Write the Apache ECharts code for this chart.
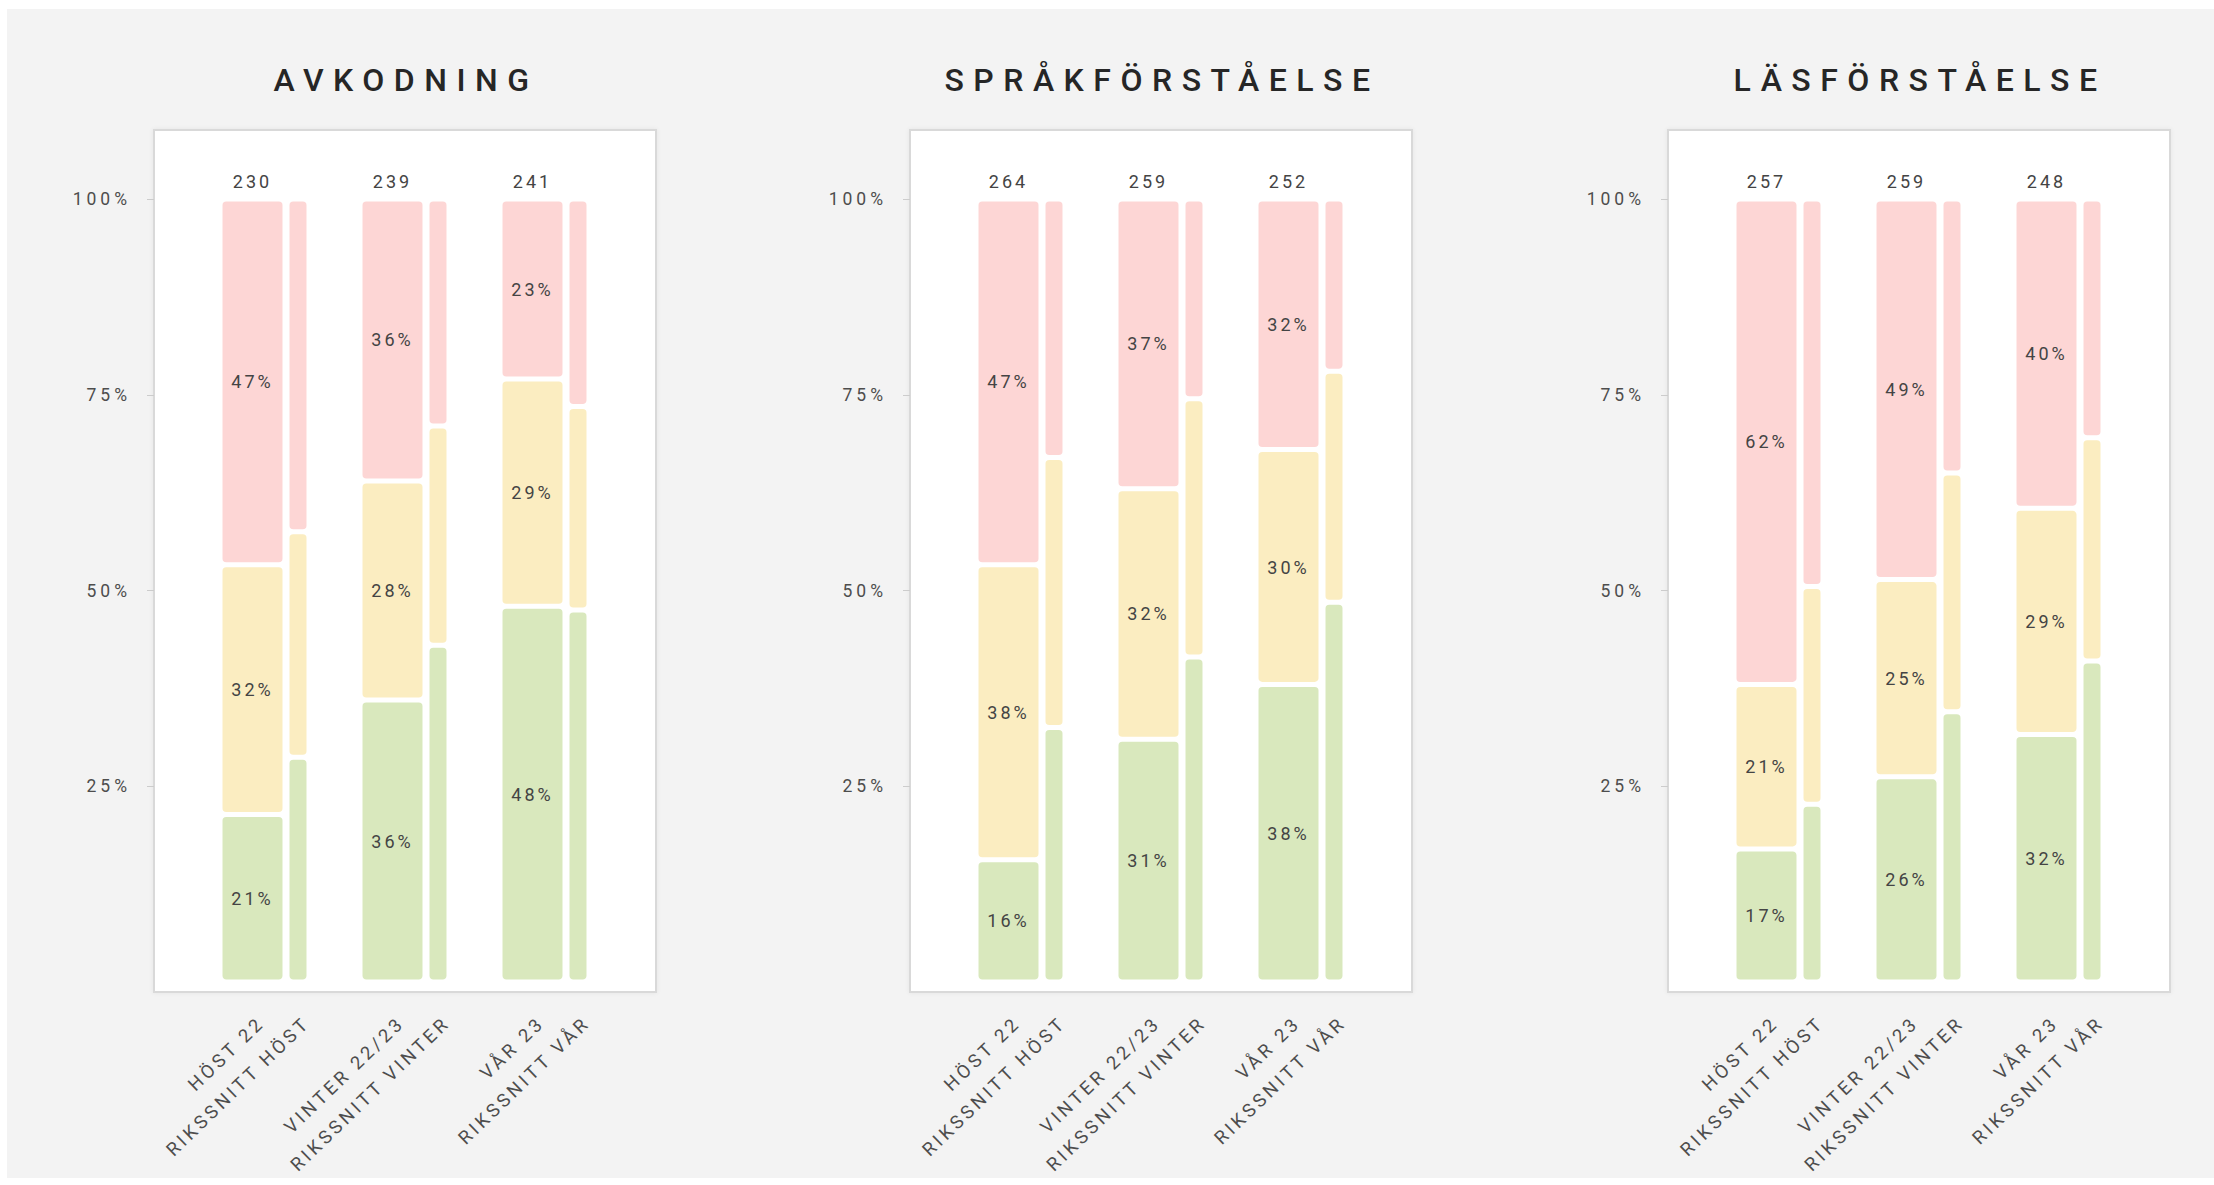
<!DOCTYPE html>
<html>
<head>
<meta charset="utf-8">
<title>Avkodning, språkförståelse, läsförståelse</title>
<script src="https://cdn.jsdelivr.net/npm/echarts@6/dist/echarts.min.js"></script>
<style>
  html, body { margin: 0; padding: 0; background: #fff; }
  #chart { width: 2214px; height: 1185px; }
  /* spärrad text som i originalet */
  #chart text[style*="32px"] { letter-spacing: 9.5px; }
  #chart text[style*="17.5px"] { letter-spacing: 4px; }
  #chart text[style*="18.5px"] { letter-spacing: 3.5px; }
  #chart text[style*="18px"] { letter-spacing: 3px; }
</style>
</head>
<body>
<div id="chart"></div>
<script>
// labels
const periods = ['HÖST 22', 'VINTER 22/23', 'VÅR 23'];
const riksLabels = ['RIKSSNITT HÖST', 'RIKSSNITT VINTER', 'RIKSSNITT VÅR'];
const titles = ['AVKODNING', 'SPRÅKFÖRSTÅELSE', 'LÄSFÖRSTÅELSE'];
const yTicks = [25, 50, 75, 100];

// AVKODNING (andel %, grön / gul / röd)
const avkGreen = [21.4, 36, 48];
const avkYellow = [31.9, 28, 29];
const avkRed = [46.7, 36, 23];
const avkCount = [230, 239, 241];
const avkRiksGreen = [28.7, 43, 47.5];
const avkRiksYellow = [28.8, 28, 26];
const avkRiksRed = [42.5, 29, 26.5];

// SPRÅKFÖRSTÅELSE
const sprGreen = [15.6, 31, 38];
const sprYellow = [37.7, 32, 30];
const sprRed = [46.7, 37, 32];
const sprCount = [264, 259, 252];
const sprRiksGreen = [32.5, 41.5, 48.5];
const sprRiksYellow = [34.5, 33, 29.5];
const sprRiksRed = [33, 25.5, 22];

// LÄSFÖRSTÅELSE
const lasGreen = [17, 26.2, 31.6];
const lasYellow = [21, 25.2, 28.9];
const lasRed = [62, 48.6, 39.5];
const lasCount = [257, 259, 248];
const lasRiksGreen = [22.7, 34.5, 41];
const lasRiksYellow = [27.8, 30.5, 28.5];
const lasRiksRed = [49.5, 35, 30.5];

const panels = [
  { main: [avkGreen, avkYellow, avkRed], riks: [avkRiksGreen, avkRiksYellow, avkRiksRed], count: avkCount },
  { main: [sprGreen, sprYellow, sprRed], riks: [sprRiksGreen, sprRiksYellow, sprRiksRed], count: sprCount },
  { main: [lasGreen, lasYellow, lasRed], riks: [lasRiksGreen, lasRiksYellow, lasRiksRed], count: lasCount }
];

// layout
const colors = ['#d9e8bd', '#fbedc1', '#fdd6d5'];
const boxLefts = [154, 910, 1668];
const BOX_W = 502;
const BOX_TOP = 130, BOX_BOTTOM = 992;
const PLOT_TOP = 199, PLOT_BOTTOM = 982;
const MAIN_OFF = 28.5, RIKS_OFF = 74, GRID_W = 420, LABEL_SHIFT = 9;
const FONT = 'Roboto, "Noto Sans", sans-serif';

const grids = [], xAxes = [], yAxes = [], series = [], titleList = [], graphics = [];

graphics.push({
  type: 'rect', z: -2, silent: true,
  shape: { x: 7, y: 9, width: 2207, height: 1169 },
  style: { fill: '#f3f3f3' }
});

function addGrid(left, cats, showLabels) {
  const idx = grids.length;
  grids.push({ left: left, top: PLOT_TOP, width: GRID_W, height: PLOT_BOTTOM - PLOT_TOP });
  xAxes.push({
    type: 'category', gridIndex: idx, data: cats,
    axisLine: { show: false }, axisTick: { show: false },
    axisLabel: {
      show: showLabels, interval: 0, rotate: 44, margin: 38,
      fontSize: 18.5, color: '#4d4d4d', fontFamily: FONT
    }
  });
  yAxes.push({ type: 'value', gridIndex: idx, min: 0, max: 100, show: false });
  return idx;
}

panels.forEach((p, i) => {
  const L = boxLefts[i];

  graphics.push({
    type: 'rect', z: -1, silent: true,
    shape: { x: L, y: BOX_TOP, width: BOX_W, height: BOX_BOTTOM - BOX_TOP },
    style: { fill: '#fff', stroke: '#d9d9d9', lineWidth: 2, shadowBlur: 4, shadowColor: 'rgba(0,0,0,0.06)' }
  });

  titleList.push({
    text: titles[i],
    left: L + BOX_W / 2 - 4,
    top: 59,
    textAlign: 'center',
    textStyle: { fontSize: 32, fontWeight: 500, color: '#262626', fontFamily: FONT }
  });

  const gMain = addGrid(L + MAIN_OFF, periods, false);
  const gRiks = addGrid(L + RIKS_OFF, riksLabels, false);
  addGrid(L + MAIN_OFF + LABEL_SHIFT, periods, true);
  addGrid(L + RIKS_OFF + LABEL_SHIFT, riksLabels, true);

  // synlig y-axel på huvudgridden, placerad vid rutans vänsterkant
  Object.assign(yAxes[gMain], {
    show: true, interval: 25, offset: MAIN_OFF,
    axisLine: { show: false },
    axisTick: { show: true, length: 7, lineStyle: { color: '#cccccc' }, customValues: yTicks },
    splitLine: { show: false },
    axisLabel: { customValues: yTicks, formatter: '{value}%', margin: 23, fontSize: 17.5, color: '#4d4d4d', fontFamily: FONT }
  });

  const itemBase = { borderColor: '#fff', borderWidth: 2.5, borderRadius: 5 };

  p.main.forEach((vals, k) => {
    series.push({
      type: 'bar', stack: 'main' + i, xAxisIndex: gMain, yAxisIndex: gMain,
      barWidth: 65,
      data: vals,
      itemStyle: Object.assign({ color: colors[k] }, itemBase),
      label: {
        show: true, position: 'inside', fontSize: 18, color: '#444', fontFamily: FONT,
        formatter: prm => Math.round(prm.value) + '%'
      },
      silent: true
    });
  });
  // antal elever ovanför stapeln
  series.push({
    type: 'bar', stack: 'main' + i, xAxisIndex: gMain, yAxisIndex: gMain,
    barWidth: 65,
    data: p.count.map(() => 0),
    itemStyle: { color: 'transparent' },
    label: {
      show: true, position: 'top', distance: 9, fontSize: 18, color: '#444', fontFamily: FONT,
      formatter: prm => p.count[prm.dataIndex]
    },
    silent: true
  });

  p.riks.forEach((vals, k) => {
    series.push({
      type: 'bar', stack: 'riks' + i, xAxisIndex: gRiks, yAxisIndex: gRiks,
      barWidth: 22,
      data: vals,
      itemStyle: Object.assign({ color: colors[k] }, itemBase),
      silent: true
    });
  });
});

const chart = echarts.init(document.getElementById('chart'), null, { renderer: 'svg' });
chart.setOption({
  backgroundColor: '#fff',
  animation: false,
  title: titleList,
  graphic: graphics,
  grid: grids,
  xAxis: xAxes,
  yAxis: yAxes,
  series: series
});
</script>
</body>
</html>
